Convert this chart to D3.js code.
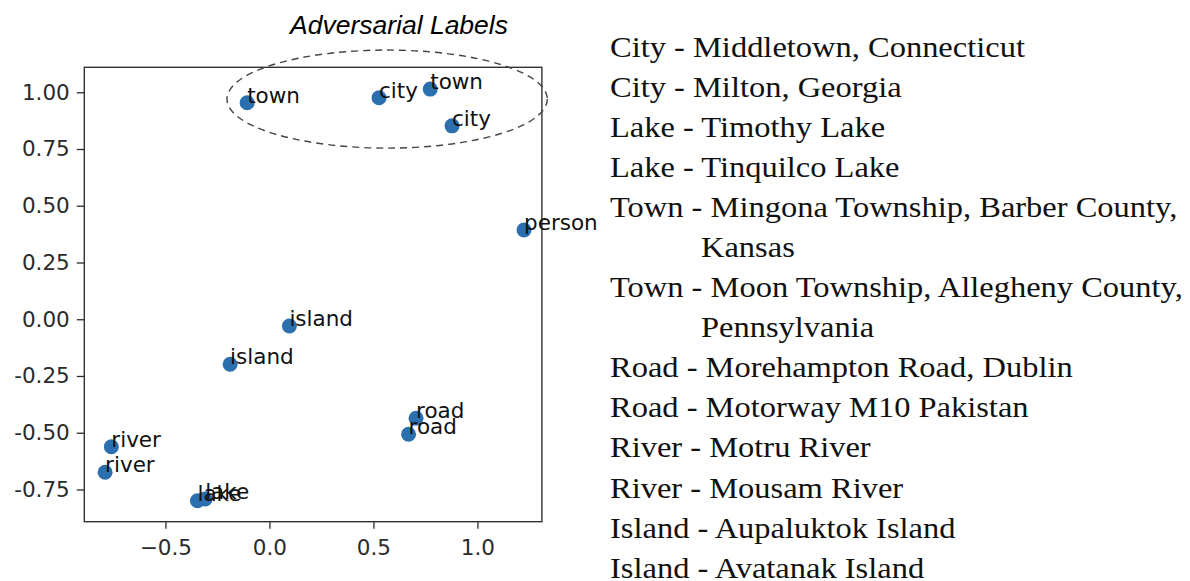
<!DOCTYPE html>
<html>
<head>
<meta charset="utf-8">
<script src="https://cdn.jsdelivr.net/npm/d3@7"></script>
<style>
  html, body { margin: 0; padding: 0; background: #fff; }
  svg { display: block; }
</style>
</head>
<body>
<svg id="chart" width="1190" height="581"></svg>
<script>
// ---- data ----
const pointLabels = ["town", "city", "town", "city", "person", "island", "island", "road", "road", "river", "river", "lake", "lake"];
const pointX = [-0.107, 0.527, 0.773, 0.878, 1.224, 0.096, -0.189, 0.705, 0.669, -0.760, -0.790, -0.346, -0.309];
const pointY = [0.954, 0.976, 1.014, 0.852, 0.393, -0.030, -0.198, -0.436, -0.507, -0.562, -0.674, -0.800, -0.792];
const xTicks = [-0.5, 0.0, 0.5, 1.0];
const yTicks = [1.00, 0.75, 0.50, 0.25, 0.00, -0.25, -0.50, -0.75];
const titleText = "Adversarial Labels";
// highlighted group (ellipse) in data units: center x, center y, radius x, radius y
const highlight = { cx: 0.566, cy: 0.970, rx: 0.77, ry: 0.216 };
const legendLines = [
  "City - Middletown, Connecticut",
  "City - Milton, Georgia",
  "Lake - Timothy Lake",
  "Lake - Tinquilco Lake",
  "Town - Mingona Township, Barber County,",
  "Kansas",
  "Town - Moon Township, Allegheny County,",
  "Pennsylvania",
  "Road - Morehampton Road, Dublin",
  "Road - Motorway M10 Pakistan",
  "River - Motru River",
  "River - Mousam River",
  "Island - Aupaluktok Island",
  "Island - Avatanak Island"
];
const legendIndent = [false, false, false, false, false, true, false, true, false, false, false, false, false, false];

// ---- scales ----
const svg = d3.select("#chart");
const x = d3.scaleLinear().domain([-0.89, 1.31]).range([84.3, 541.9]);
const y = d3.scaleLinear().domain([-0.892, 1.11]).range([521.7, 67.3]);

const tickColor = "#2b2b2b";
const sansFont = "'DejaVu Sans', sans-serif";

// x axis
const xAxis = svg.append("g")
  .attr("transform", `translate(0,${y.range()[0]})`)
  .call(d3.axisBottom(x).tickValues(xTicks).tickFormat(d3.format(".1f")).tickSize(7).tickPadding(11));
xAxis.select(".domain").remove();
xAxis.selectAll(".tick line").attr("stroke", tickColor).attr("stroke-width", 1.3);
xAxis.selectAll(".tick text").attr("fill", tickColor).style("font-family", sansFont).style("font-size", "21.5px");

// y axis
const yAxis = svg.append("g")
  .attr("transform", `translate(${x.range()[0]},0)`)
  .call(d3.axisLeft(y).tickValues(yTicks).tickFormat(d => d3.format(".2f")(d).replace("\u2212", "-")).tickSize(7.5).tickPadding(7));
yAxis.select(".domain").remove();
yAxis.selectAll(".tick line").attr("stroke", tickColor).attr("stroke-width", 1.3);
yAxis.selectAll(".tick text").attr("fill", tickColor).style("font-family", sansFont).style("font-size", "21.5px");

// frame
svg.append("rect")
  .attr("x", x.range()[0]).attr("y", y.range()[1])
  .attr("width", x.range()[1] - x.range()[0])
  .attr("height", y.range()[0] - y.range()[1])
  .attr("fill", "none").attr("stroke", "#333").attr("stroke-width", 1.4);

// points
const pts = pointLabels.map((l, i) => ({ label: l, x: pointX[i], y: pointY[i] }));
svg.append("g").selectAll("circle").data(pts).join("circle")
  .attr("cx", d => x(d.x)).attr("cy", d => y(d.y)).attr("r", 7.5)
  .attr("fill", "#2c6fae");

svg.append("g").selectAll("text").data(pts).join("text")
  .attr("x", d => x(d.x)).attr("y", d => y(d.y))
  .attr("fill", "#111")
  .style("font-family", sansFont).style("font-size", "21.5px")
  .text(d => d.label);

// highlight ellipse
svg.append("ellipse")
  .attr("cx", x(highlight.cx)).attr("cy", y(highlight.cy))
  .attr("rx", x(highlight.rx) - x(0)).attr("ry", y(0) - y(highlight.ry))
  .attr("fill", "none").attr("stroke", "#444").attr("stroke-width", 1.4)
  .attr("stroke-dasharray", "7,5");

// title
svg.append("text")
  .attr("x", 399).attr("y", 34)
  .attr("text-anchor", "middle")
  .attr("fill", "#000")
  .style("font-family", "'Liberation Sans', Arial, sans-serif")
  .style("font-style", "italic")
  .style("font-size", "26.5px")
  .text(titleText);

// legend text (right side)
const leg = svg.append("g").attr("transform", "translate(610,56.5) scale(1.065,1)");
leg.selectAll("text").data(legendLines).join("text")
  .attr("x", (d, i) => legendIndent[i] ? (701 - 610) / 1.065 : 0)
  .attr("y", (d, i) => i * 40.1)
  .attr("fill", "#111")
  .style("font-family", "'Liberation Serif', 'Times New Roman', serif")
  .style("font-size", "30.5px")
  .style("white-space", "pre")
  .text(d => d);
</script>
</body>
</html>
